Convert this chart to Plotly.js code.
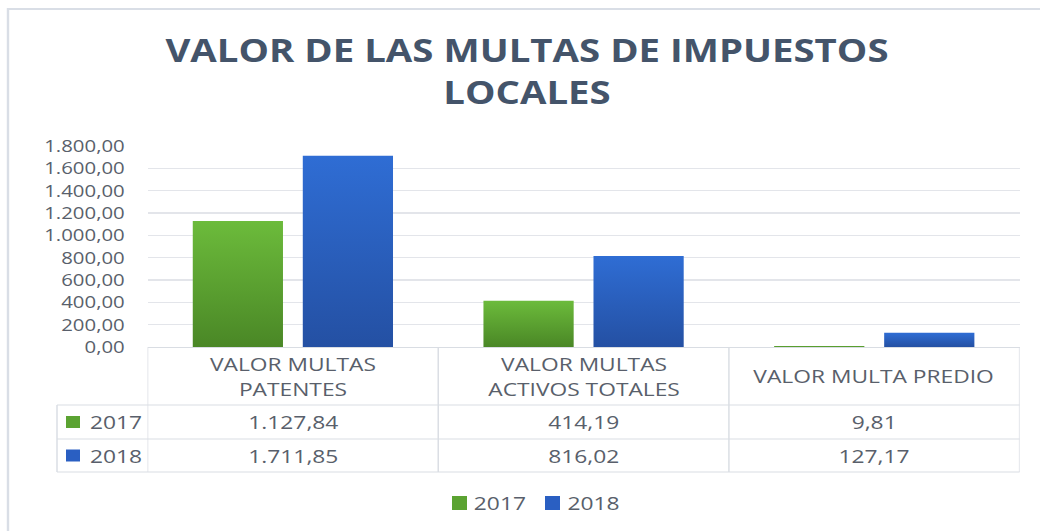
<!DOCTYPE html>
<html>
<head>
<meta charset="utf-8">
<script src="https://cdn.plot.ly/plotly-3.0.1.min.js"></script>
<style>
  html, body { margin: 0; padding: 0; background: #ffffff; overflow: hidden; }
  #wrap { width: 1040px; height: 531px; overflow: hidden; }
  #chart { width: 867px; height: 531px; transform: scaleX(1.19954); transform-origin: 0 0; }
</style>
</head>
<body>
<div id="wrap"><div id="chart"></div></div>
<script>
// ---- data ----
const categories = ["VALOR MULTAS<br>PATENTES", "VALOR MULTAS<br>ACTIVOS TOTALES", "VALOR MULTA PREDIO"];
const seriesNames = ["2017", "2018"];
const values2017 = [1127.84, 414.19, 9.81];
const values2018 = [1711.85, 816.02, 127.17];
const yTickVals = [0, 200, 400, 600, 800, 1000, 1200, 1400, 1600, 1800];

// ---- style ----
const S = 1040 / 867;            // horizontal stretch of the picture
const W = 867, H = 531;
const ML = 123, MR = 17, MT = 146, MB = 184;
const PW = W - ML - MR, PH = H - MT - MB;
const textColor = "#595F6B";
const lineColor = "#D9DDE3";
const colors = ["#5BA332", "#2A5FC2"];
const grads = [["#6CBB3B", "#4A8726"], ["#2F6DD4", "#2450A3"]];
const FONT = "Open Sans, Noto Sans, sans-serif";

// pixel (screen) -> paper helpers
const px = x => (x / S - ML) / PW;
const py = y => 1 - (y - MT) / PH;

function fmt(v) {
  const parts = v.toFixed(2).split(".");
  return parts[0].replace(/\B(?=(\d{3})+(?!\d))/g, ".") + "," + parts[1];
}

const allSeries = [values2017, values2018];

const traces = allSeries.map((vals, i) => ({
  type: "bar",
  name: seriesNames[i],
  x: categories,
  y: vals,
  marker: { color: colors[i], line: { width: 0 } },
  hoverinfo: "skip",
  showlegend: false
}));

const shapes = [];
const annotations = [];

// outer chart border
shapes.push({ type: "rect", xref: "paper", yref: "paper",
  x0: px(8), x1: px(1060), y0: py(9), y1: py(545),
  line: { color: "#D9DEE6", width: 2 }, fillcolor: "rgba(0,0,0,0)" });

// table: vertical lines at category boundaries
[-0.5, 0.5, 1.5, 2.5].forEach(b => {
  shapes.push({ type: "line", xref: "x", yref: "paper", x0: b, x1: b,
    y0: py(347), y1: py(472), line: { color: lineColor, width: 1.2 } });
});
// left column line
shapes.push({ type: "line", xref: "paper", yref: "paper", x0: px(57), x1: px(57),
  y0: py(405), y1: py(472), line: { color: lineColor, width: 1.2 } });
// horizontal lines
[405, 439, 472].forEach(yv => {
  shapes.push({ type: "line", xref: "paper", yref: "paper", x0: px(57), x1: 1,
    y0: py(yv), y1: py(yv), line: { color: lineColor, width: 1.2 } });
});

// header labels
categories.forEach(c => {
  annotations.push({ xref: "x", yref: "paper", x: c, y: py(376), text: c,
    showarrow: false, xanchor: "center", yanchor: "middle",
    font: { family: FONT, size: 19, color: textColor } });
});

// row labels + values
const rowCenters = [422, 455.5];
allSeries.forEach((vals, i) => {
  const yc = rowCenters[i];
  shapes.push({ type: "rect", xref: "paper", yref: "paper",
    x0: px(66), x1: px(80), y0: py(yc - 6), y1: py(yc + 6),
    line: { width: 0 }, fillcolor: colors[i] });
  annotations.push({ xref: "paper", yref: "paper", x: px(87), y: py(yc),
    text: seriesNames[i], showarrow: false, xanchor: "left", yanchor: "middle",
    font: { family: FONT, size: 19, color: textColor } });
  vals.forEach((v, j) => {
    annotations.push({ xref: "x", yref: "paper", x: categories[j], y: py(yc),
      text: fmt(v), showarrow: false, xanchor: "center", yanchor: "middle",
      font: { family: FONT, size: 19, color: textColor } });
  });
});

// bottom legend
const legendSquareX = [452, 545];
seriesNames.forEach((nm, i) => {
  const x0 = legendSquareX[i];
  shapes.push({ type: "rect", xref: "paper", yref: "paper",
    x0: px(x0), x1: px(x0 + 15), y0: py(496), y1: py(510),
    line: { width: 0 }, fillcolor: colors[i] });
  annotations.push({ xref: "paper", yref: "paper", x: px(x0 + 20), y: py(503),
    text: nm, showarrow: false, xanchor: "left", yanchor: "middle",
    font: { family: FONT, size: 19, color: textColor } });
});

const layout = {
  width: W, height: H,
  margin: { l: ML, r: MR, t: MT, b: MB, pad: 0 },
  paper_bgcolor: "#ffffff", plot_bgcolor: "#ffffff",
  separators: ",.",
  barmode: "group", bargap: 0.243, bargroupgap: 0.18,
  title: {
    text: "VALOR DE LAS MULTAS DE IMPUESTOS<br>LOCALES",
    font: { family: FONT, size: 32, color: "#44546A", weight: "bold" },
    xref: "container", yref: "container",
    x: 0.5067, xanchor: "center", y: 1 - 62 / 531, yanchor: "top"
  },
  xaxis: {
    type: "category", showticklabels: false, ticks: "",
    showgrid: false, zeroline: false,
    showline: true, linecolor: lineColor, linewidth: 1.2,
    range: [-0.5, 2.5], fixedrange: true
  },
  yaxis: {
    range: [0, 1800], tickvals: yTickVals, tickformat: ",.2f",
    ticks: "", ticklabelstandoff: 18,
    tickfont: { family: FONT, size: 17, color: textColor },
    showgrid: true, gridcolor: "#E3E5EA", gridwidth: 1.2,
    zeroline: false, showline: false, fixedrange: true
  },
  showlegend: false,
  shapes: shapes,
  annotations: annotations
};

const gd = document.getElementById("chart");
Plotly.newPlot(gd, traces, layout, { staticPlot: true, displayModeBar: false }).then(() => {
  const NS = "http://www.w3.org/2000/svg";
  const svg = gd.querySelector("svg.main-svg");
  let defs = svg.querySelector("defs");
  if (!defs) { defs = document.createElementNS(NS, "defs"); svg.insertBefore(defs, svg.firstChild); }
  grads.forEach((g, i) => {
    const lg = document.createElementNS(NS, "linearGradient");
    lg.setAttribute("id", "barGrad" + i);
    lg.setAttribute("x1", "0"); lg.setAttribute("y1", "0");
    lg.setAttribute("x2", "0"); lg.setAttribute("y2", "1");
    [[0, g[0]], [1, g[1]]].forEach(([o, c]) => {
      const st = document.createElementNS(NS, "stop");
      st.setAttribute("offset", o); st.setAttribute("stop-color", c);
      lg.appendChild(st);
    });
    defs.appendChild(lg);
  });
  gd.querySelectorAll(".barlayer .trace").forEach((tr, i) => {
    tr.querySelectorAll("path").forEach(p => { p.style.fill = "url(#barGrad" + i + ")"; });
  });
});
</script>
</body>
</html>
